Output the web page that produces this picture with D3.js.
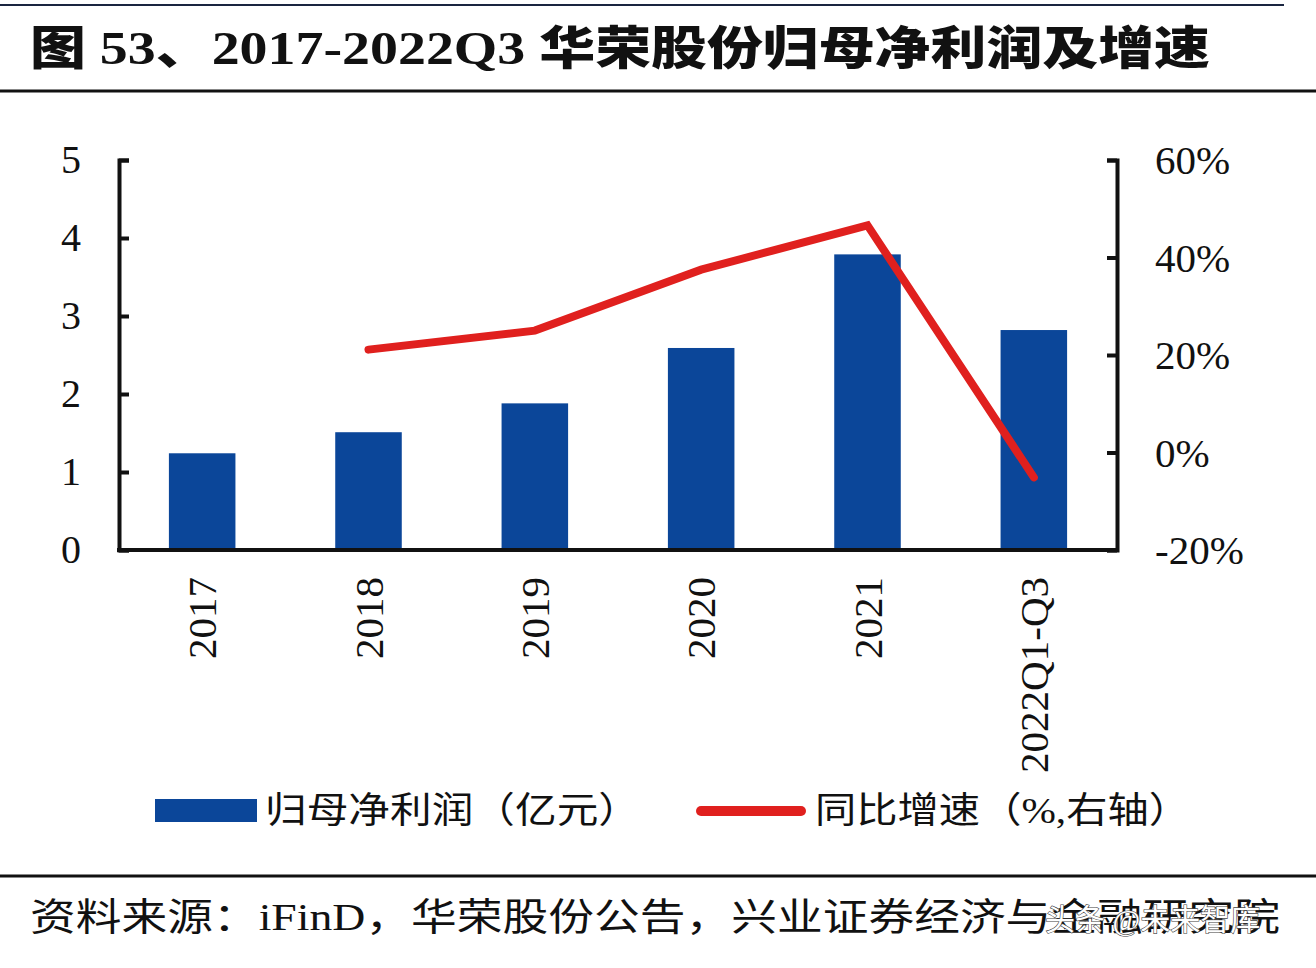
<!DOCTYPE html>
<html><head><meta charset="utf-8">
<script src="https://cdn.jsdelivr.net/npm/d3@7"></script>
<style>
html,body{margin:0;padding:0;background:#fff;}
svg{display:block;}
</style></head>
<body>
<svg id="chart" width="1316" height="968"></svg>
<script>
const categories = ["2017","2018","2019","2020","2021","2022Q1-Q3"];
const profit = [1.24, 1.51, 1.88, 2.59, 3.79, 2.82];
const growth = [null, 21.1, 25.0, 37.5, 46.6, -5.1];
const leftTicks = [0,1,2,3,4,5];
const rightTicks = [-20,0,20,40,60];
const titleText = "图 53、2017-2022Q3 华荣股份归母净利润及增速";
const legendLabels = ["归母净利润（亿元）","同比增速（%,右轴）"];
const sourceText = "资料来源：iFinD，华荣股份公告，兴业证券经济与金融研究院";

(function(){
const svg = d3.select("#chart");
const serif = "'Liberation Serif','Times New Roman',serif";
const cjk = "'Liberation Serif','Noto Sans CJK SC',sans-serif";
const blue = "#0b4699", red = "#e0201e";

const pL = 119, pR = 1117, pT = 160, pB = 550;
const x = d3.scaleBand().domain(categories).range([pL, pR]).paddingInner(0.6).paddingOuter(0.3);
const y = d3.scaleLinear().domain([0,5]).range([pB, pT]);
const y2 = d3.scaleLinear().domain([-20,60]).range([pB, pT]);

// header lines
svg.append("line").attr("x1",0).attr("x2",1284).attr("y1",5).attr("y2",5).attr("stroke","#1a2540").attr("stroke-width",2);
svg.append("line").attr("x1",0).attr("x2",1316).attr("y1",91).attr("y2",91).attr("stroke","#111").attr("stroke-width",3);
svg.append("text").attr("x",30).attr("y",64).text(titleText)
  .attr("font-family",cjk).attr("font-weight",900).attr("font-size",46).attr("fill","#111")
  .attr("textLength",1180).attr("lengthAdjust","spacingAndGlyphs");

// bars
svg.append("g").selectAll("rect").data(profit).join("rect")
  .attr("x",(d,i)=>x(categories[i])).attr("width",x.bandwidth())
  .attr("y",d=>y(d)).attr("height",d=>y(0)-y(d)).attr("fill",blue);

// axes
const axL = svg.append("g").attr("transform",`translate(${pL},0)`)
  .call(d3.axisRight(y).tickValues(leftTicks).tickSize(10).tickFormat(""));
const axR = svg.append("g").attr("transform",`translate(${pR},0)`)
  .call(d3.axisLeft(y2).tickValues(rightTicks).tickSize(10).tickFormat(""));
[axL,axR].forEach(a=>{
  a.select(".domain").attr("stroke","#111").attr("stroke-width",4);
  a.selectAll(".tick line").attr("stroke","#111").attr("stroke-width",4);
});
svg.append("line").attr("x1",pL-2).attr("x2",pR+2).attr("y1",y(0)).attr("y2",y(0))
  .attr("stroke","#111").attr("stroke-width",4);

// tick labels
svg.append("g").selectAll("text").data(leftTicks).join("text")
  .attr("x",81).attr("y",d=>y(d)+13).attr("text-anchor","end").text(d=>d)
  .attr("font-family",serif).attr("font-size",40).attr("fill","#111");
svg.append("g").selectAll("text").data(rightTicks).join("text")
  .attr("x",1155).attr("y",d=>y2(d)+14).text(d=>d+"%")
  .attr("font-family",serif).attr("font-size",41).attr("fill","#111");
svg.append("g").selectAll("text").data(categories).join("text")
  .attr("transform",d=>`translate(${x(d)+x.bandwidth()/2+14},577) rotate(-90)`)
  .attr("text-anchor","end").text(d=>d)
  .attr("font-family",serif).attr("font-size",41).attr("fill","#111");

// line
const pts = growth.map((g,i)=>({g,c:categories[i]})).filter(d=>d.g!==null);
svg.append("path").datum(pts)
  .attr("d",d3.line().x(d=>x(d.c)+x.bandwidth()/2).y(d=>y2(d.g)))
  .attr("fill","none").attr("stroke",red).attr("stroke-width",8)
  .attr("stroke-linecap","round").attr("stroke-linejoin","miter");

// legend
svg.append("rect").attr("x",155).attr("y",799).attr("width",102).attr("height",23).attr("fill",blue);
svg.append("text").attr("x",265).attr("y",823).text(legendLabels[0])
  .attr("font-family",cjk).attr("font-size",36).attr("fill","#111")
  .attr("textLength",375).attr("lengthAdjust","spacingAndGlyphs");
svg.append("line").attr("x1",701).attr("x2",801).attr("y1",811).attr("y2",811)
  .attr("stroke",red).attr("stroke-width",10).attr("stroke-linecap","round");
svg.append("text").attr("x",815).attr("y",823).text(legendLabels[1])
  .attr("font-family",cjk).attr("font-size",36).attr("fill","#111")
  .attr("textLength",375).attr("lengthAdjust","spacingAndGlyphs");

// footer
svg.append("line").attr("x1",0).attr("x2",1316).attr("y1",876).attr("y2",876).attr("stroke","#111").attr("stroke-width",3);
svg.append("text").attr("x",30).attr("y",930).text(sourceText)
  .attr("font-family",cjk).attr("font-size",38).attr("fill","#111")
  .attr("textLength",1250).attr("lengthAdjust","spacingAndGlyphs");
svg.append("text").attr("x",1045).attr("y",930).text("头条 @未来智库")
  .attr("font-family",cjk).attr("font-size",30).attr("fill","#fff")
  .attr("stroke","#444").attr("stroke-width",1.2).attr("paint-order","stroke");
})();
</script>
</body></html>
